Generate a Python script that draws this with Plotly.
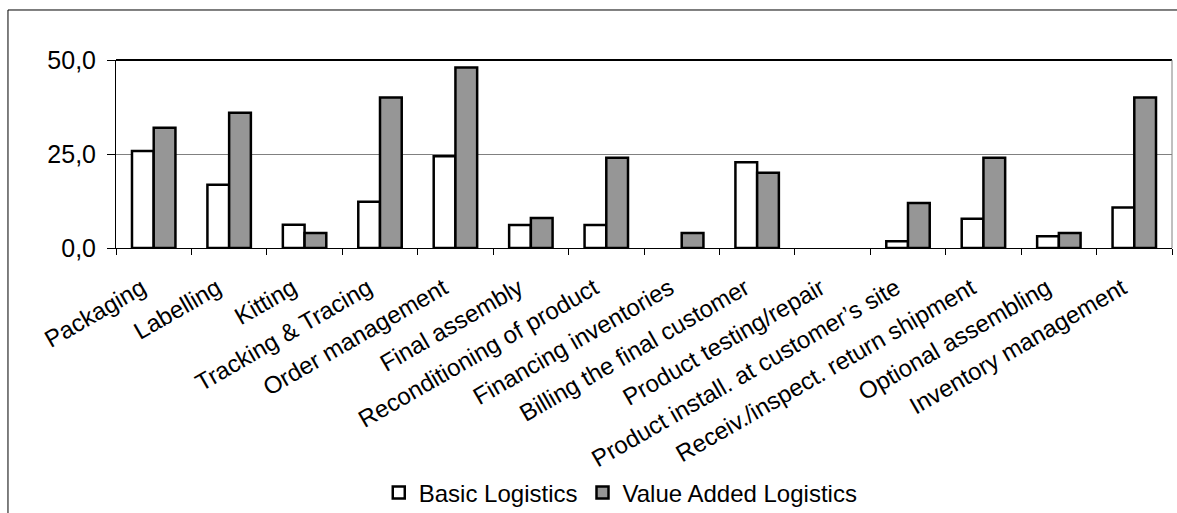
import plotly.graph_objects as go

# Logistics activities offered (share of respondents, %)
categories = [
    "Packaging", "Labelling", "Kitting", "Tracking & Tracing",
    "Order management", "Final assembly", "Reconditioning of product",
    "Financing inventories", "Billing the final customer",
    "Product testing/repair", "Product install. at customer\u2019s site",
    "Receiv./inspect. return shipment", "Optional assembling",
    "Inventory management",
]
basic_logistics = [25.8, 16.8, 6.2, 12.3, 24.4, 6.1, 6.1, 0, 22.8, 0, 1.8, 7.8, 3.1, 10.8]
value_added_logistics = [32, 36, 4, 40, 48, 8, 24, 4, 20, 0, 12, 24, 4, 40]

y_tickvals = [0, 25, 50]
y_ticktext = ["0,0", "25,0", "50,0"]

FONT = "Liberation Sans, Arial, sans-serif"
OUTLINE = 2.5


def outline_widths(values):
    # empty bars get no outline so nothing is stroked along the baseline
    return [OUTLINE if v > 0 else 0 for v in values]


fig = go.Figure()
fig.add_trace(go.Bar(
    name="Basic Logistics", x=categories, y=basic_logistics,
    marker=dict(color="#ffffff",
                line=dict(color="#000000", width=outline_widths(basic_logistics))),
))
fig.add_trace(go.Bar(
    name="Value Added Logistics", x=categories, y=value_added_logistics,
    marker=dict(color="#969696",
                line=dict(color="#000000", width=outline_widths(value_added_logistics))),
))

fig.update_layout(
    width=1177, height=513,
    margin=dict(l=116, r=5, t=60, b=265, autoexpand=False),
    paper_bgcolor="#ffffff", plot_bgcolor="#ffffff",
    font=dict(family=FONT, size=24, color="#000000"),
    barmode="group", bargap=0.424, bargroupgap=0,
    showlegend=True,
    legend=dict(
        orientation="h", x=0.478, xanchor="center", y=-1.303, yanchor="middle",
        font=dict(family=FONT, size=24, color="#000000"),
        itemwidth=30, tracegroupgap=0, bgcolor="rgba(0,0,0,0)",
    ),
    xaxis=dict(
        type="category", tickangle=-30, tickson="boundaries",
        ticks="outside", ticklen=6, tickcolor="#000000", tickwidth=1,
        showline=True, linecolor="#000000", linewidth=1,
        showgrid=False, zeroline=False, automargin=False,
        ticklabelstandoff=16, ticklabelshift=-12,
        tickfont=dict(family=FONT, size=24, color="#000000"),
    ),
    yaxis=dict(
        range=[0, 50], tickvals=y_tickvals, ticktext=y_ticktext,
        ticks="outside", ticklen=8, tickcolor="#000000", tickwidth=1,
        showline=True, linecolor="#000000", linewidth=1,
        showgrid=True, gridcolor="#808080", gridwidth=1,
        zeroline=False, automargin=False, ticklabelstandoff=6,
        tickfont=dict(family=FONT, size=25, color="#000000"),
    ),
    shapes=[
        # heavy top border of the plot area
        dict(type="line", xref="paper", yref="paper", x0=0, x1=1, y0=1, y1=1,
             line=dict(color="#000000", width=2)),
        # thin right border of the plot area
        dict(type="line", xref="paper", yref="paper", x0=1, x1=1, y0=0, y1=1,
             line=dict(color="#808080", width=1)),
        # outer chart frame
        dict(type="rect", xref="paper", yref="paper",
             x0=-0.1023, x1=1.02, y0=-1.5, y1=1.266,
             line=dict(color="#000000", width=1), fillcolor="rgba(0,0,0,0)",
             layer="below"),
    ],
)

fig.write_html("out.html")
